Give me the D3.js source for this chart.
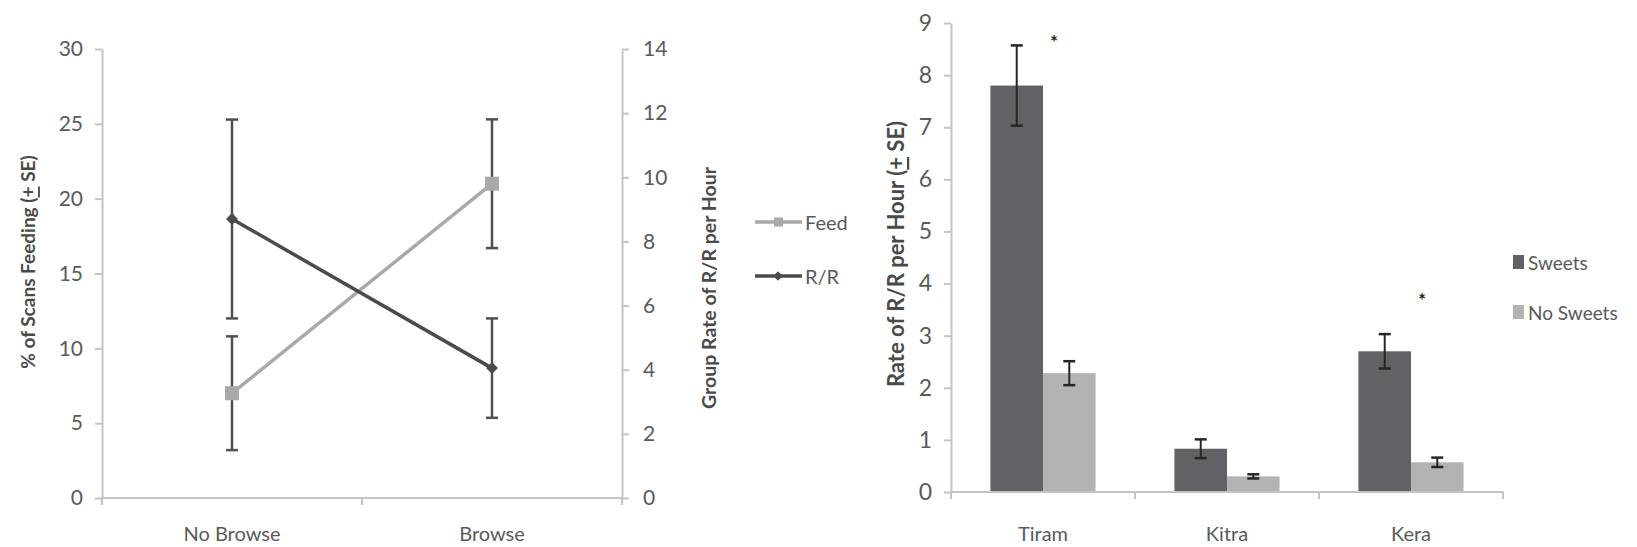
<!DOCTYPE html>
<html>
<head>
<meta charset="utf-8">
<script src="https://cdn.jsdelivr.net/npm/d3@7"></script>
<style>
  html, body { margin: 0; padding: 0; background: #ffffff; }
  svg { display: block; }
  text { font-family: Lato, "Open Sans", sans-serif; }
</style>
</head>
<body>
<svg id="chart" width="1637" height="547"></svg>
<script>
// ---------- Left chart data ----------
const browseCategories = ["No Browse", "Browse"];
const feedValues = [7.0, 21.0];
const feedSE = [3.8, 4.3];
const rrValues = [8.7, 4.05];
const rrSE = [3.1, 1.55];
const leftTicks = [0, 5, 10, 15, 20, 25, 30];
const rightTicks = [0, 2, 4, 6, 8, 10, 12, 14];
const lineSeries = ["Feed", "R/R"];

// ---------- Right chart data ----------
const groups = ["Tiram", "Kitra", "Kera"];
const barSeries = ["Sweets", "No Sweets"];
const sweetsValues = [7.8, 0.83, 2.7];
const sweetsSE = [0.77, 0.18, 0.33];
const noSweetsValues = [2.28, 0.30, 0.57];
const noSweetsSE = [0.23, 0.04, 0.09];
const sigMarks = [8.65, null, 3.7];
const barTicks = [0, 1, 2, 3, 4, 5, 6, 7, 8, 9];

const svg = d3.select("#chart");
const axisGray = "#c4c4c4";
const tickText = "#5a5a5a";
const titleText = "#4a4a4a";

// ================= LEFT CHART =================
const L = { x0: 102, x1: 622, yb: 498, yt: 49 };
const xL = d3.scaleBand().domain(browseCategories).range([L.x0, L.x1]);
const yL = d3.scaleLinear().domain([0, 30]).range([L.yb, L.yt]);
const yR = d3.scaleLinear().domain([0, 14]).range([L.yb, L.yt]);

const gL = svg.append("g");

function styleAxis(g) {
  g.select(".domain").attr("stroke", axisGray).attr("stroke-width", 2);
  g.selectAll(".tick line").attr("stroke", axisGray).attr("stroke-width", 2);
  g.selectAll(".tick text").attr("fill", tickText).style("font-size", "21px");
}

gL.append("g").attr("transform", `translate(${L.x0},0)`)
  .call(d3.axisLeft(yL).tickValues(leftTicks).tickSize(7).tickSizeOuter(0).tickPadding(12))
  .call(styleAxis);
gL.append("g").attr("transform", `translate(${L.x1},0)`)
  .call(d3.axisRight(yR).tickValues(rightTicks).tickSize(7).tickSizeOuter(0).tickPadding(14))
  .call(styleAxis);
// x axis with boundary ticks
const xAxisL = gL.append("g").attr("transform", `translate(0,${L.yb})`);
xAxisL.append("line").attr("x1", L.x0).attr("x2", L.x1).attr("stroke", axisGray).attr("stroke-width", 2);
const bL = [L.x0, ...browseCategories.slice(1).map(c => xL(c)), L.x1];
xAxisL.selectAll("line.b").data(bL).enter().append("line")
  .attr("x1", d => d).attr("x2", d => d).attr("y1", 0).attr("y2", 7)
  .attr("stroke", axisGray).attr("stroke-width", 2);
xAxisL.selectAll("text").data(browseCategories).enter().append("text")
  .attr("x", d => xL(d) + xL.bandwidth() / 2).attr("y", 43)
  .attr("text-anchor", "middle").attr("fill", tickText).style("font-size", "20px")
  .text(d => d);

// error bars (Feed on left axis, R/R on right axis)
const errColor = "#505050";
function errBars(g, values, se, scale) {
  values.forEach((v, i) => {
    const cx = xL(browseCategories[i]) + xL.bandwidth() / 2;
    const top = scale(v + se[i]), bot = scale(v - se[i]);
    g.append("line").attr("x1", cx).attr("x2", cx).attr("y1", top).attr("y2", bot)
      .attr("stroke", errColor).attr("stroke-width", 2.5);
    [top, bot].forEach(y => g.append("line").attr("x1", cx - 6).attr("x2", cx + 6)
      .attr("y1", y).attr("y2", y).attr("stroke", errColor).attr("stroke-width", 2.5));
  });
}
errBars(gL, rrValues, rrSE, yR);
errBars(gL, feedValues, feedSE, yL);

const feedColor = "#a9a9ab";
const rrColor = "#4b4a4f";
const lineGen = s => d3.line().x((d, i) => xL(browseCategories[i]) + xL.bandwidth() / 2).y(d => s(d));
gL.append("path").datum(feedValues).attr("d", lineGen(yL))
  .attr("fill", "none").attr("stroke", feedColor).attr("stroke-width", 3.5);
gL.append("path").datum(rrValues).attr("d", lineGen(yR))
  .attr("fill", "none").attr("stroke", rrColor).attr("stroke-width", 3.5);

gL.selectAll("rect.fm").data(feedValues).enter().append("rect")
  .attr("x", (d, i) => xL(browseCategories[i]) + xL.bandwidth() / 2 - 7)
  .attr("y", d => yL(d) - 7).attr("width", 14).attr("height", 14).attr("fill", feedColor);
gL.selectAll("path.rm").data(rrValues).enter().append("path")
  .attr("d", d3.symbol().type(d3.symbolDiamond2).size(90))
  .attr("transform", (d, i) => `translate(${xL(browseCategories[i]) + xL.bandwidth() / 2},${yR(d)})`)
  .attr("fill", rrColor);

// axis titles
function vTitle(g, x, y, size, parts) {
  const t = g.append("text").attr("transform", `translate(${x},${y}) rotate(-90)`)
    .attr("text-anchor", "middle").attr("dominant-baseline", "central")
    .attr("fill", titleText).style("font-size", size + "px").style("font-weight", "bold");
  parts.forEach(p => {
    const ts = t.append("tspan").text(p.t);
    if (p.u) ts.style("text-decoration", "underline");
  });
}
vTitle(gL, 27, 262, 19, [{ t: "% of Scans Feeding (" }, { t: "+", u: true }, { t: " SE)" }]);
vTitle(gL, 708, 288, 19.5, [{ t: "Group Rate of R/R per Hour" }]);

// legend for lines
const legL = gL.append("g");
const legY = d3.scalePoint().domain(lineSeries).range([222, 276]);
lineSeries.forEach(s => {
  const y = legY(s);
  const c = s === "Feed" ? feedColor : rrColor;
  legL.append("line").attr("x1", 755).attr("x2", 802).attr("y1", y).attr("y2", y)
    .attr("stroke", c).attr("stroke-width", 3.5);
  if (s === "Feed") {
    legL.append("rect").attr("x", 774).attr("y", y - 4.5).attr("width", 9).attr("height", 9).attr("fill", c);
  } else {
    legL.append("path").attr("d", d3.symbol().type(d3.symbolDiamond2).size(55))
      .attr("transform", `translate(778,${y})`).attr("fill", c);
  }
  legL.append("text").attr("x", 805).attr("y", y).attr("dominant-baseline", "central")
    .attr("fill", tickText).style("font-size", "20px").text(s);
});

// ================= RIGHT CHART =================
const R = { x0: 951, x1: 1503, yb: 492, yt: 23 };
const xB = d3.scaleBand().domain(groups).range([R.x0, R.x1]).paddingInner(0).paddingOuter(0);
const bw = xB.bandwidth() / 3.5;
const xS = d3.scaleBand().domain(barSeries).range([0.75 * bw, 2.75 * bw]);
const yB = d3.scaleLinear().domain([0, 9]).range([R.yb, R.yt]);
const gR = svg.append("g");

gR.append("g").attr("transform", `translate(${R.x0},0)`)
  .call(d3.axisLeft(yB).tickValues(barTicks).tickSize(7).tickSizeOuter(0).tickPadding(12))
  .call(g => { styleAxis(g); g.selectAll(".tick text").style("font-size", "23px"); });

const barColors = { "Sweets": "#626165", "No Sweets": "#b3b3b6" };
const barData = [];
groups.forEach((gname, i) => {
  barData.push({ g: gname, s: "Sweets", v: sweetsValues[i], e: sweetsSE[i] });
  barData.push({ g: gname, s: "No Sweets", v: noSweetsValues[i], e: noSweetsSE[i] });
});
gR.selectAll("rect.bar").data(barData).enter().append("rect")
  .attr("x", d => xB(d.g) + xS(d.s)).attr("width", xS.bandwidth())
  .attr("y", d => yB(d.v)).attr("height", d => yB(0) - yB(d.v))
  .attr("fill", d => barColors[d.s]);

// x axis
const xAxisR = gR.append("g").attr("transform", `translate(0,${R.yb})`);
xAxisR.append("line").attr("x1", R.x0).attr("x2", R.x1).attr("stroke", axisGray).attr("stroke-width", 2);
xAxisR.selectAll("line.b").data([R.x0, ...groups.slice(1).map(g => xB(g)), R.x1]).enter().append("line")
  .attr("x1", d => d).attr("x2", d => d).attr("y1", 0).attr("y2", 7)
  .attr("stroke", axisGray).attr("stroke-width", 2);
xAxisR.selectAll("text").data(groups).enter().append("text")
  .attr("x", d => xB(d) + xB.bandwidth() / 2).attr("y", 49)
  .attr("text-anchor", "middle").attr("fill", tickText).style("font-size", "20px").text(d => d);

// error bars
barData.forEach(d => {
  const cx = xB(d.g) + xS(d.s) + xS.bandwidth() / 2;
  const top = yB(d.v + d.e), bot = yB(d.v - d.e);
  gR.append("line").attr("x1", cx).attr("x2", cx).attr("y1", top).attr("y2", bot)
    .attr("stroke", "#262626").attr("stroke-width", 2);
  [top, bot].forEach(y => gR.append("line").attr("x1", cx - 6).attr("x2", cx + 6)
    .attr("y1", y).attr("y2", y).attr("stroke", "#262626").attr("stroke-width", 2.5));
});

// significance marks
groups.forEach((gname, i) => {
  if (sigMarks[i] == null) return;
  gR.append("text").attr("x", xB(gname) + xB.bandwidth() / 2 + 11).attr("y", yB(sigMarks[i]) + 8)
    .attr("text-anchor", "middle").attr("fill", "#222").style("font-size", "18px")
    .style("font-weight", "bold").text("*");
});

vTitle(gR, 895, 254, 22, [{ t: "Rate of R/R per Hour (" }, { t: "+", u: true }, { t: " SE)" }]);

// legend for bars
const legR = gR.append("g");
const legRY = d3.scalePoint().domain(barSeries).range([262, 312]);
barSeries.forEach(s => {
  const y = legRY(s);
  legR.append("rect").attr("x", 1513).attr("y", y - 7).attr("width", 11).attr("height", 14).attr("fill", barColors[s]);
  legR.append("text").attr("x", 1528).attr("y", y).attr("dominant-baseline", "central")
    .attr("fill", tickText).style("font-size", "19px").text(s);
});
</script>
</body>
</html>
